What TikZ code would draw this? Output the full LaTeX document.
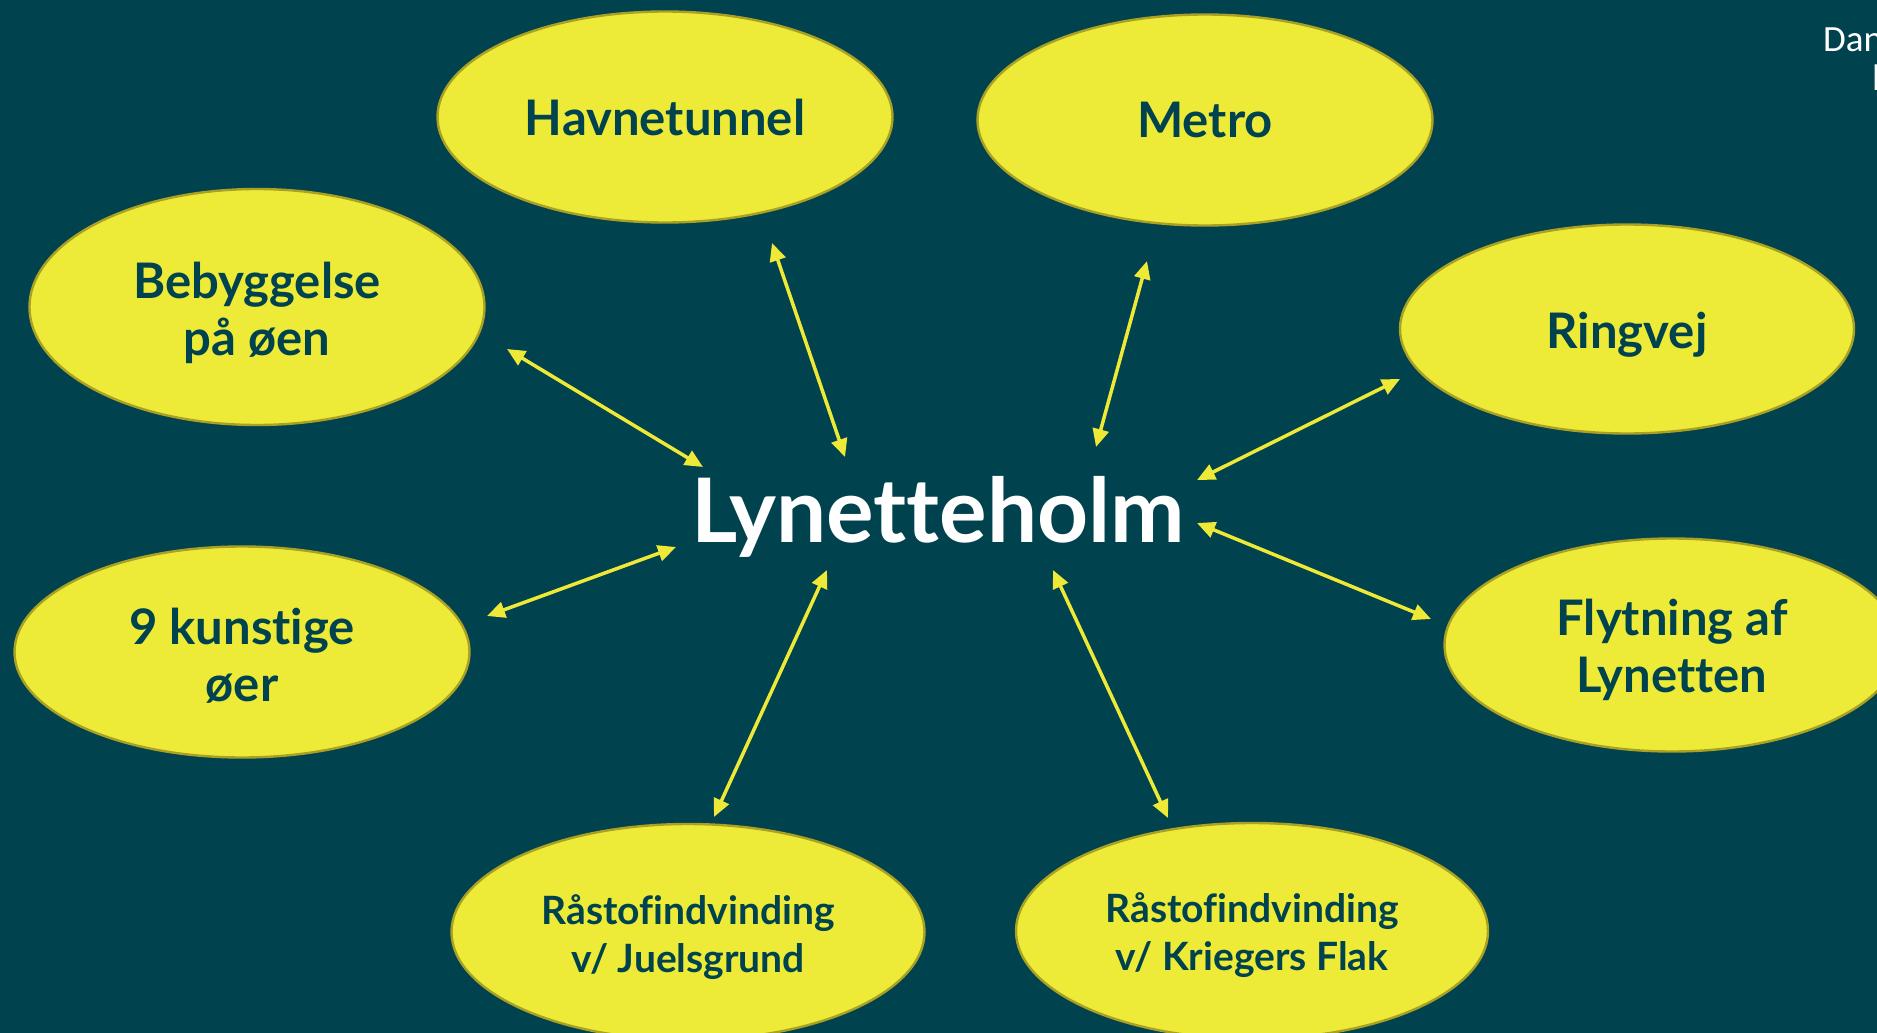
\documentclass[tikz,border=0pt]{standalone}
\usepackage{fontspec}
\setmainfont{Lato}[Ligatures=NoCommon]
\newfontfamily\carlito{Carlito}
\usetikzlibrary{shapes.geometric,arrows.meta}
\definecolor{bgteal}{HTML}{01424F}
\definecolor{ellfill}{HTML}{EDEB37}
\definecolor{ellborder}{HTML}{A9A124}
\definecolor{txtteal}{HTML}{01424F}
\definecolor{arrowyel}{HTML}{EDE936}
\begin{document}
\begin{tikzpicture}[x=1pt,y=-1pt,
  bubble/.style={ellipse,draw=ellborder,line width=2.4pt,fill=ellfill,inner sep=0pt,
    minimum width=455pt,minimum height=211pt},
  bubtext/.style={text=txtteal,align=center,inner sep=0pt,
    font=\fontsize{49}{57}\selectfont\bfseries},
  smalltext/.style={bubtext,font=\fontsize{39}{48}\selectfont\bfseries},
  link/.style={draw=arrowyel,line width=3.5pt,
    {Triangle[length=18pt,width=16pt]}-{Triangle[length=18pt,width=16pt]}}]
\useasboundingbox (0,0) rectangle (1877,1033);
\fill[bgteal] (0,0) rectangle (1877,1033);

% ellipses
\node[bubble] (havn) at (665,117) {};
\node[bubble] (metro) at (1205,120) {};
\node[bubble,minimum height=236pt] (beb) at (257,307) {};
\node[bubble,minimum width=454pt,minimum height=209pt] (ring) at (1627,329) {};
\node[bubble] (kunst) at (242,652) {};
\node[bubble,minimum height=213pt] (flyt) at (1672,645) {};
\node[bubble,minimum width=473pt,minimum height=216pt] (juel) at (688,932) {};
\node[bubble,minimum width=472pt,minimum height=216pt] (krieg) at (1252,931) {};

% ellipse texts
\node[bubtext] (havnt) at (havn) {Havnetunnel};
\node[bubtext] (metrot) at (metro) {Metro};
\node[bubtext] (bebt) at ([yshift=-6pt]beb.center) {Bebyggelse\\på øen};
\node[bubtext] (ringt) at ([yshift=-6pt]ring.center) {Ringvej};
\node[bubtext] (kunstt) at ([yshift=-4pt]kunst.center) {9 kunstige\\øer};
\node[bubtext] (flytt) at ([yshift=-5pt]flyt.center) {Flytning af\\Lynetten};
\node[smalltext] (juelt) at ([yshift=-5pt]juel.center) {Råstofindvinding\\v/ Juelsgrund};
\node[smalltext] (kriegt) at ([yshift=-4pt]krieg.center) {Råstofindvinding\\v/ Kriegers Flak};

% centre
\node[text=white,font=\fontsize{89}{100}\selectfont\bfseries,anchor=base,inner sep=0pt] (lyn) at (938,542) {Lynetteholm};

% corner text
\node[text=white,font=\carlito\fontsize{37}{40}\selectfont,anchor=base west,inner sep=0pt] (dan) at (1823,52) {Dan};
\node[text=white,font=\carlito\fontsize{37}{40}\selectfont,anchor=base west,inner sep=0pt] (danb) at (1872,90) {l};

% arrow end points
\coordinate (a1) at (772,243);  \coordinate (b1) at (845,457);
\coordinate (a2) at (1147,261); \coordinate (b2) at (1096,447);
\coordinate (a3) at (507,349);  \coordinate (b3) at (703,467);
\coordinate (a4) at (1400,379); \coordinate (b4) at (1197,480);
\coordinate (a5) at (487,616);  \coordinate (b5) at (676,547);
\coordinate (a6) at (1431,619); \coordinate (b6) at (1197,523);
\coordinate (a7) at (714,817);  \coordinate (b7) at (827,570);
\coordinate (a8) at (1168,818); \coordinate (b8) at (1053,570);

\draw[link] (a1) -- (b1);
\draw[link] (a2) -- (b2);
\draw[link] (a3) -- (b3);
\draw[link] (a4) -- (b4);
\draw[link] (a5) -- (b5);
\draw[link] (a6) -- (b6);
\draw[link] (a7) -- (b7);
\draw[link] (a8) -- (b8);
\end{tikzpicture}
\end{document}
